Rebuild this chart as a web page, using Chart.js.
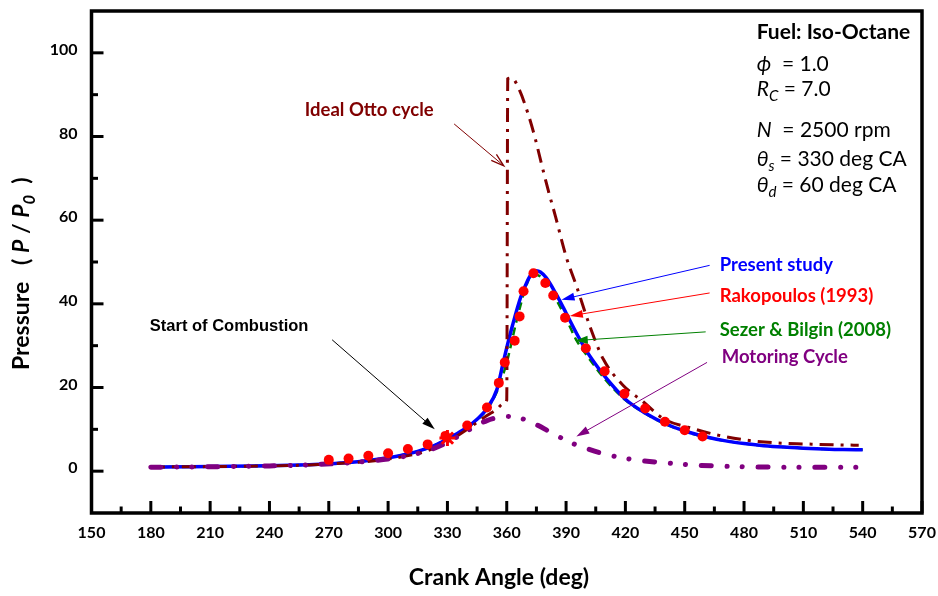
<!DOCTYPE html>
<html>
<head>
<meta charset="utf-8">
<script src="https://cdn.jsdelivr.net/npm/chart.js@4.4.1/dist/chart.umd.min.js"></script>
<style>
  html, body { margin: 0; padding: 0; background: #ffffff; }
  #wrap { width: 938px; height: 596px; }
</style>
</head>
<body>
<div id="wrap"><canvas id="pressureChart" width="938" height="596"></canvas></div>
<script>
// Tick labels
const xTickValues = [150, 180, 210, 240, 270, 300, 330, 360, 390, 420, 450, 480, 510, 540, 570];
const yTickValues = [0, 20, 40, 60, 80, 100];

// Present study (solid blue)
const presentAngle = [180, 200, 220, 240, 260, 270, 280, 290, 300, 310, 320, 325, 330, 335, 340, 345, 350, 355, 358, 360, 363, 367, 370, 372, 375, 377, 380, 385, 390, 395, 400, 405, 410, 420, 430, 440, 450, 460, 470, 480, 490, 500, 510, 520, 530, 540];
const presentPressure = [1.0, 1.05, 1.15, 1.3, 1.55, 1.75, 2.05, 2.55, 3.2, 4.1, 5.5, 6.5, 7.7, 9.0, 10.5, 12.4, 15.0, 19.5, 25.5, 29.5, 35.0, 41.5, 45.0, 46.8, 47.9, 47.6, 46.2, 42.3, 37.8, 33.2, 29.0, 25.5, 22.4, 17.2, 13.9, 11.4, 9.6, 8.3, 7.3, 6.6, 6.1, 5.75, 5.5, 5.3, 5.15, 5.1];

// Rakopoulos (1993) (red dots)
const rakopoulosAngle = [270, 280, 290, 300, 310, 320, 329, 340, 350, 356, 359, 364, 366.5, 368.5, 373.5, 379.5, 383.5, 389.5, 400, 409.5, 419.5, 430, 440, 450, 459];
const rakopoulosPressure = [2.7, 3.0, 3.7, 4.3, 5.3, 6.4, 8.4, 10.9, 15.2, 21.1, 26.0, 31.2, 37.0, 43.0, 47.3, 45.0, 42.0, 36.7, 29.4, 23.9, 18.5, 15.0, 11.8, 9.8, 8.3];

// Sezer & Bilgin (2008) (green dashed)
const sezerAngle = [180, 220, 260, 300, 320, 330, 340, 345, 350, 355, 360, 365, 370, 373, 376, 380, 385, 390, 395, 400, 410, 420, 430, 440, 450, 460, 480, 500, 520, 540];
const sezerPressure = [1.0, 1.15, 1.55, 3.2, 5.5, 7.7, 10.4, 12.2, 14.8, 19.0, 26.0, 36.0, 44.5, 47.0, 46.8, 45.0, 41.0, 36.5, 31.5, 28.0, 21.8, 17.0, 13.8, 11.3, 9.5, 8.2, 6.6, 5.75, 5.3, 5.1];

// Motoring cycle (purple dash-dot-dot)
const motoringAngle = [180, 200, 220, 240, 260, 280, 290, 300, 310, 320, 330, 340, 345, 350, 355, 360, 365, 372, 383, 392, 400, 407, 415, 425, 440, 450, 465, 480, 500, 520, 540];
const motoringPressure = [0.95, 1.0, 1.1, 1.25, 1.5, 2.0, 2.4, 2.9, 3.7, 4.9, 6.9, 9.6, 11.0, 12.1, 12.8, 13.1, 12.9, 11.8, 9.1, 6.9, 5.5, 4.4, 3.5, 2.7, 2.0, 1.6, 1.25, 1.05, 0.95, 0.95, 0.95];

// Ideal Otto cycle (dark red dash-dot)
const ottoAngle = [180, 220, 260, 300, 320, 330, 340, 350, 355, 358, 360, 360.5, 362.5, 366.5, 370.8, 374.3, 377.6, 381, 384.7, 388.2, 390.2, 395.3, 402, 408.8, 418.9, 429, 439, 454, 466, 480, 495, 511, 525, 538];
const ottoPressure = [1.0, 1.15, 1.5, 2.9, 4.9, 7.0, 10.0, 13.3, 14.8, 16.0, 17.0, 93.8, 94.0, 91.0, 85.4, 79.7, 73.4, 67.1, 60.8, 54.4, 51.0, 44.2, 34.7, 26.8, 20.5, 16.6, 12.6, 10.2, 8.7, 7.5, 6.8, 6.5, 6.3, 6.2];

// Start of combustion marker
const combustionAngle = [330];
const combustionPressure = [7.9];

const FONT = "Lato, 'DejaVu Sans', sans-serif";
const NUDGE = -3; // Lato sits low on a 'middle' baseline

function toPoints(xs, ys) {
    return xs.map((x, i) => ({ x: x, y: ys[i] }));
}

// Callout labels and arrows, in data units
const callouts = [
    { text: 'Ideal Otto cycle', color: '#800000', at: [257.9, 85.7], from: [333.4, 83.0], to: [358.5, 73.0], open: true },
    { text: 'Present study', color: '#0000ff', at: [467.7, 48.5], from: [462.6, 49.2], to: [387.7, 41.0] },
    { text: 'Rakopoulos (1993)', color: '#ff0000', at: [467.7, 41.2], from: [462.6, 42.6], to: [391.9, 37.1] },
    { text: 'Sezer & Bilgin (2008)', color: '#008000', at: [467.7, 33.1], from: [460.6, 33.3], to: [394.4, 31.2] },
    { text: 'Motoring Cycle', color: '#800080', at: [468.7, 26.5], from: [461.3, 26.0], to: [395.2, 8.3] },
    { text: 'Start of Combustion', color: '#000000', at: [179.5, 33.8], from: [271.7, 31.4], to: [323.6, 10.0], font: "bold 16.5px 'Liberation Sans', Arial, sans-serif" }
];

// Operating conditions block (parts: text, flags b=bold i=italic s=subscript)
const infoLines = [
    { y: 104.1, parts: [['Fuel: Iso-Octane', 'b']] },
    { y: 96.6, parts: [['\u03d5', 'i'], ['  = 1.0', '']] },
    { y: 90.6, parts: [['R', 'i'], ['C', 'is'], [' = 7.0', '']] },
    { y: 80.9, parts: [['N', 'i'], ['  = 2500 rpm', '']] },
    { y: 73.8, parts: [['\u03b8', 'i'], ['s', 'is'], [' = 330 deg CA', '']] },
    { y: 67.6, parts: [['\u03b8', 'i'], ['d', 'is'], [' = 60 deg CA', '']] }
];
const infoAngle = 486.4;

function fontFor(fl, size) {
    const fs = fl.includes('s') ? size * 0.72 : size;
    return (fl.includes('i') ? 'italic ' : '') + (fl.includes('b') ? 'bold ' : '') + fs + 'px ' + FONT;
}

function drawRich(ctx, x, y, parts, size) {
    let cx = x;
    parts.forEach(([txt, fl]) => {
        ctx.font = fontFor(fl, size);
        ctx.fillText(txt, cx, fl.includes('s') ? y + size * 0.32 : y);
        cx += ctx.measureText(txt).width;
    });
}

function drawArrow(ctx, x1, y1, x2, y2, color, open) {
    const ang = Math.atan2(y2 - y1, x2 - x1);
    const len = 13, half = 4;
    ctx.save();
    ctx.strokeStyle = color;
    ctx.fillStyle = color;
    ctx.lineWidth = 1;
    ctx.beginPath();
    ctx.moveTo(x1, y1);
    ctx.lineTo(x2 - Math.cos(ang) * (open ? 1 : len * 0.8), y2 - Math.sin(ang) * (open ? 1 : len * 0.8));
    ctx.stroke();
    const bx = x2 - Math.cos(ang) * len, by = y2 - Math.sin(ang) * len;
    const px = -Math.sin(ang) * half, py = Math.cos(ang) * half;
    ctx.beginPath();
    ctx.moveTo(bx + px, by + py);
    ctx.lineTo(x2, y2);
    ctx.lineTo(bx - px, by - py);
    if (open) {
        ctx.lineWidth = 1.3;
        ctx.stroke();
    } else {
        ctx.closePath();
        ctx.fill();
    }
    ctx.restore();
}

// Frame, inward ticks, tick labels, axis titles and callouts
const decorPlugin = {
    id: 'decor',
    afterDraw(chart) {
        const ctx = chart.ctx;
        const xs = chart.scales.x, ys = chart.scales.y;
        const a = chart.chartArea;

        ctx.save();
        ctx.strokeStyle = '#000';
        ctx.lineWidth = 3;
        for (let v = 150; v <= 570; v += 15) {
            const px = xs.getPixelForValue(v);
            const major = (v - 150) % 30 === 0;
            ctx.beginPath();
            ctx.moveTo(px, a.bottom);
            ctx.lineTo(px, a.bottom - (major ? 12 : 6.5));
            ctx.stroke();
        }
        for (let v = 0; v <= 100; v += 10) {
            const py = ys.getPixelForValue(v);
            const major = v % 20 === 0;
            ctx.beginPath();
            ctx.moveTo(a.left, py);
            ctx.lineTo(a.left + (major ? 12 : 6.5), py);
            ctx.stroke();
        }
        ctx.lineWidth = 3.5;
        ctx.strokeRect(a.left, a.top, a.right - a.left, a.bottom - a.top);

        // tick labels
        ctx.fillStyle = '#000';
        ctx.font = 'bold 16px ' + FONT;
        ctx.textBaseline = 'middle';
        ctx.textAlign = 'center';
        xTickValues.forEach(v => ctx.fillText(String(v), xs.getPixelForValue(v), a.bottom + 20));
        ctx.textAlign = 'right';
        yTickValues.forEach(v => ctx.fillText(String(v), a.left - 14, ys.getPixelForValue(v) + NUDGE));
        ctx.restore();

        // callouts
        ctx.save();
        ctx.textBaseline = 'middle';
        ctx.textAlign = 'left';
        callouts.forEach(c => {
            drawArrow(ctx,
                xs.getPixelForValue(c.from[0]), ys.getPixelForValue(c.from[1]),
                xs.getPixelForValue(c.to[0]), ys.getPixelForValue(c.to[1]),
                c.color, c.open);
            ctx.fillStyle = c.color;
            ctx.font = c.font || ('bold 18.5px ' + FONT);
            ctx.fillText(c.text, xs.getPixelForValue(c.at[0]), ys.getPixelForValue(c.at[1]) + NUDGE);
        });

        // operating conditions
        ctx.fillStyle = '#000';
        infoLines.forEach(line => {
            drawRich(ctx, xs.getPixelForValue(infoAngle), ys.getPixelForValue(line.y) + NUDGE, line.parts, 21);
        });

        // x axis title
        ctx.textAlign = 'center';
        ctx.font = 'bold 23px ' + FONT;
        ctx.fillText('Crank Angle (deg)', 499, 578);

        // y axis title, reading upward from its bottom end
        const yTitle = [['Pressure', 'b'], ['   ( ', 'b'], ['P', 'bi'], [' / ', 'b'], ['P', 'bi'], ['0', 'bis'], ['  )', 'b']];
        ctx.translate(22, 370);
        ctx.rotate(-Math.PI / 2);
        ctx.textAlign = 'left';
        drawRich(ctx, 0, 0, yTitle, 23);
        ctx.restore();
    }
};

const ctx = document.getElementById('pressureChart');
new Chart(ctx, {
    type: 'line',
    data: {
        datasets: [
            {
                label: 'Start of Combustion',
                data: toPoints(combustionAngle, combustionPressure),
                showLine: false,
                pointStyle: 'star',
                pointRadius: 8,
                borderColor: '#ff0000',
                borderWidth: 3,
                order: 0
            },
            {
                label: 'Rakopoulos (1993)',
                data: toPoints(rakopoulosAngle, rakopoulosPressure),
                showLine: false,
                pointRadius: 5,
                backgroundColor: '#ff0000',
                borderWidth: 0,
                order: 1
            },
            {
                label: 'Motoring Cycle',
                data: toPoints(motoringAngle, motoringPressure),
                borderColor: '#800080',
                borderWidth: 5,
                borderDash: [10, 15.8, 0.1, 15, 0.1, 15.8],
                borderCapStyle: 'round',
                pointRadius: 0,
                cubicInterpolationMode: 'monotone',
                order: 2
            },
            {
                label: 'Ideal Otto cycle',
                data: toPoints(ottoAngle, ottoPressure),
                borderColor: '#800000',
                borderWidth: 3,
                borderDash: [14, 7, 3, 7],
                pointRadius: 0,
                cubicInterpolationMode: 'monotone',
                order: 3
            },
            {
                label: 'Present study',
                data: toPoints(presentAngle, presentPressure),
                borderColor: '#0000ff',
                borderWidth: 3.5,
                pointRadius: 0,
                cubicInterpolationMode: 'monotone',
                order: 4
            },
            {
                label: 'Sezer & Bilgin (2008)',
                data: toPoints(sezerAngle, sezerPressure),
                borderColor: '#008000',
                borderWidth: 2.5,
                borderDash: [8, 5],
                pointRadius: 0,
                cubicInterpolationMode: 'monotone',
                order: 5
            }
        ]
    },
    options: {
        responsive: false,
        animation: false,
        devicePixelRatio: 1,
        layout: { padding: { left: 0, right: 16, top: 5, bottom: 0 } },
        plugins: {
            legend: { display: false },
            tooltip: { enabled: false }
        },
        scales: {
            x: {
                type: 'linear',
                min: 150,
                max: 570,
                afterBuildTicks: s => { s.ticks = xTickValues.map(v => ({ value: v })); },
                afterFit: s => { s.height = 83; },
                grid: { display: false, drawTicks: false },
                border: { display: false },
                ticks: { display: false }
            },
            y: {
                type: 'linear',
                min: -10,
                max: 110,
                afterBuildTicks: s => { s.ticks = yTickValues.map(v => ({ value: v })); },
                afterFit: s => { s.width = 91.5; },
                grid: { display: false, drawTicks: false },
                border: { display: false },
                ticks: { display: false }
            }
        }
    },
    plugins: [decorPlugin]
});
</script>
</body>
</html>
